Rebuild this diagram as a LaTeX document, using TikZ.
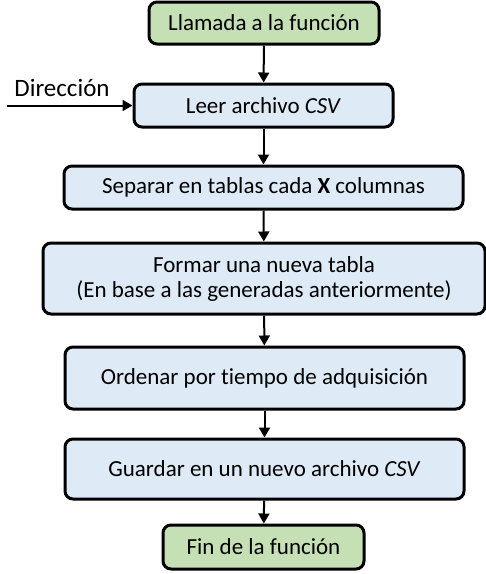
\documentclass[tikz,border=0pt]{standalone}
\usepackage{fontspec}
\setmainfont{Carlito}[Ligatures=NoCommon]
\usetikzlibrary{arrows.meta,positioning}
\definecolor{verde}{HTML}{C5E0B4}
\definecolor{azul}{HTML}{DEEBF7}
\tikzset{caja/.style={draw=black,line width=1.5pt,rounded corners=4pt,align=center,inner sep=0pt,font=\fontsize{11.5}{12.5}\selectfont},
    proceso/.style={caja,fill=azul},
    extremo/.style={caja,fill=verde},
    flecha/.style={line width=1pt,-{Triangle[width=5.5pt,length=5pt]}}}

\begin{document}
\begin{tikzpicture}[x=0.5pt,y=-0.5pt]
                \useasboundingbox (0,0) rectangle (486,574);
                \node[extremo,minimum width=115pt,minimum height=21pt] (llamada) at (264,23) {Llamada a la función};
                \node[proceso,minimum width=129.5pt,minimum height=21.5pt] (leer) at (263.5,105.5) {Leer archivo \textit{CSV}};
                \node[proceso,minimum width=199.5pt,minimum height=21.5pt] (separar) at (263.5,187.5) {Separar en tablas cada \textbf{X} columnas};
                \node[proceso,minimum width=221pt,minimum height=35.5pt] (formar) at (264,278.5) {Formar una nueva tabla\\(En base a las generadas anteriormente)};
                \node[proceso,minimum width=199.5pt,minimum height=31pt] (ordenar) at (264.5,378) {Ordenar por tiempo de adquisición};
                \node[proceso,minimum width=199.5pt,minimum height=30pt] (guardar) at (264.5,469) {Guardar en un nuevo archivo \textit{CSV}};
                \node[extremo,minimum width=100.5pt,minimum height=22pt] (fin) at (263.5,547) {Fin de la función};
                % entrada de la direccion
                \coordinate (entrada) at (7,105.5);
                \node[font=\fontsize{12.5}{13}\selectfont] (direccion) at (62,88) {Dirección};
                \draw[flecha] (entrada) -- (leer.west);
                \foreach \a/\b in {llamada/leer,leer/separar,separar/formar,formar/ordenar,ordenar/guardar,guardar/fin} {
                    \draw[flecha] (\a) -- (\b);
                }
            \end{tikzpicture}
\end{document}
